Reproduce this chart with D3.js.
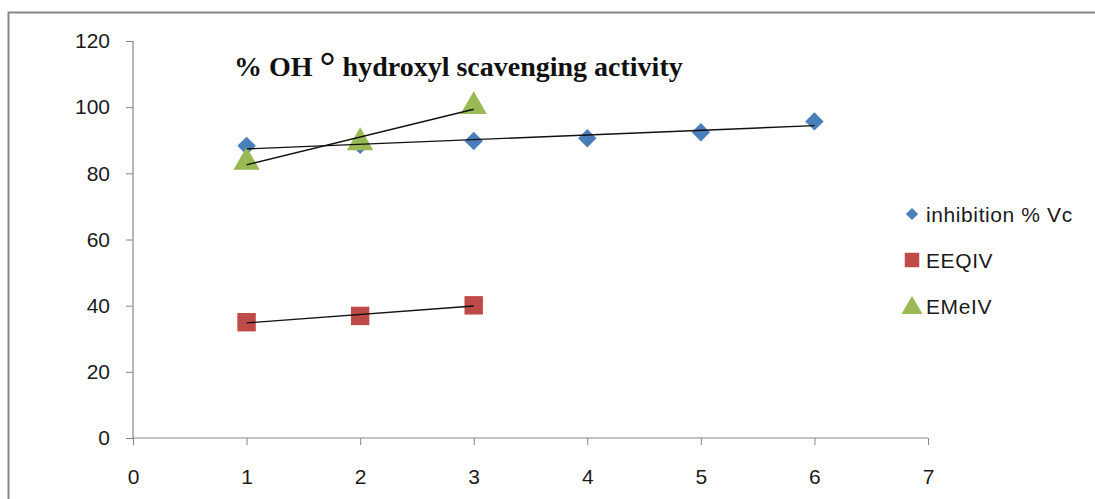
<!DOCTYPE html>
<html>
<head>
<meta charset="utf-8">
<script src="https://cdn.jsdelivr.net/npm/d3@7"></script>
<style>
  body { margin: 0; background: #fff; }
  text { font-family: "Liberation Sans", sans-serif; }
</style>
</head>
<body>
<div id="chart"></div>
<script>
var xVc = [1, 2, 3, 4, 5, 6];
var vc = [88.3, 88.6, 89.8, 90.6, 92.4, 95.7];
var xEEQ = [1, 2, 3];
var eeq = [35, 36.9, 40.1];
var xEMe = [1, 2, 3];
var eme = [83.4, 89.3, 100.2];
var yTicks = [0, 20, 40, 60, 80, 100, 120];
var xTicks = [0, 1, 2, 3, 4, 5, 6, 7];
var names = ["inhibition % Vc", "EEQIV", "EMeIV"];

var w = 1095, h = 499;
var p = {"top": 41, "left": 133, "right": 1095 - 928, "bottom": 499 - 438};

var svg = d3.select("#chart").append("svg")
  .attr("width", w)
  .attr("height", h)

// chart frame
svg.append("rect")
  .attr("x", 8.5).attr("y", 12.5)
  .attr("width", w).attr("height", h)
  .attr("fill", "none")
  .attr("stroke", "#868686")
  .attr("stroke-width", 2)

var x = d3.scaleLinear().domain([0, 7]).range([p.left, w - p.right])
var y = d3.scaleLinear().domain([0, 120]).range([h - p.bottom, p.top])

var yAxis = svg.append("g")
  .attr("transform", "translate(" + p.left + ",0)")
  .call(d3.axisLeft(y).tickValues(yTicks).tickSize(7).tickPadding(16).tickFormat(d3.format("d")))
var xAxis = svg.append("g")
  .attr("transform", "translate(0," + (h - p.bottom) + ")")
  .call(d3.axisBottom(x).tickValues(xTicks).tickSize(7).tickPadding(24).tickFormat(d3.format("d")))

;[yAxis, xAxis].forEach(function(a){
  a.select(".domain").attr("stroke", "#868686").attr("stroke-width", 1.2)
  a.selectAll(".tick line").attr("stroke", "#868686")
  a.selectAll(".tick text").attr("fill", "#1a1a1a").style("font-size", "21px")
})
// y axis stops at the top tick, no outer tick
yAxis.select(".domain").attr("d", "M0," + y(120) + "V" + y(0))
xAxis.select(".domain").attr("d", "M" + x(0) + ",0H" + x(7))

// linear trendline from data
function trend(xs, ys){
  var mx = d3.mean(xs), my = d3.mean(ys);
  var b = d3.sum(xs, function(v, i){ return (v - mx) * (ys[i] - my) }) / d3.sum(xs, function(v){ return (v - mx) * (v - mx) });
  var a = my - b * mx;
  var x0 = d3.min(xs), x1 = d3.max(xs);
  return [[x0, a + b * x0], [x1, a + b * x1]];
}

var series = [
  {xs: xVc, ys: vc, color: "#4a7ebb", sym: d3.symbolSquare, size: 170, rot: 45, leg: 75},
  {xs: xEEQ, ys: eeq, color: "#be4b48", sym: d3.symbolSquare, size: 340, rot: 0, leg: 210},
  {xs: xEMe, ys: eme, color: "#98b954", sym: d3.symbolTriangle, size: 300, rot: 0, leg: 190}
];

series.forEach(function(s){
  svg.selectAll(null)
    .data(s.xs)
    .enter()
      .append("path")
        .attr("d", d3.symbol().type(s.sym).size(s.size))
        .attr("transform", function(d, i){
          return "translate(" + x(d) + "," + y(s.ys[i]) + ") rotate(" + s.rot + ")"
        })
        .attr("fill", s.color)
})

var line = d3.line().x(function(d){ return x(d[0]) }).y(function(d){ return y(d[1]) })
series.forEach(function(s){
  svg.append("path")
    .attr("d", line(trend(s.xs, s.ys)))
    .attr("stroke", "#111")
    .attr("stroke-width", 1.4)
    .attr("fill", "none")
})

// title
var title = svg.append("text")
  .attr("x", 234).attr("y", 76)
  .style("font-family", "'Liberation Serif', 'Times New Roman', serif")
  .style("font-weight", "bold")
  .style("font-size", "28px")
  .attr("fill", "#111")
title.append("tspan").text("% OH ")
title.append("tspan").text("°").style("font-size", "40px").attr("dy", 4)
title.append("tspan").text(" hydroxyl scavenging activity").attr("dy", -4)

// legend
var legend = svg.append("g").attr("transform", "translate(912,214)")
series.forEach(function(s, i){
  var g = legend.append("g").attr("transform", "translate(0," + (i * 46) + ")")
  g.append("path")
    .attr("d", d3.symbol().type(s.sym).size(s.leg))
    .attr("transform", "translate(0," + (s.sym === d3.symbolTriangle ? 2 : 0) + ") rotate(" + s.rot + ")")
    .attr("fill", s.color)
  g.append("text")
    .attr("x", 14).attr("y", 8)
    .style("font-size", "21px")
    .style("letter-spacing", "0.6px")
    .attr("fill", "#1a1a1a")
    .text(names[i])
})
</script>
</body>
</html>
